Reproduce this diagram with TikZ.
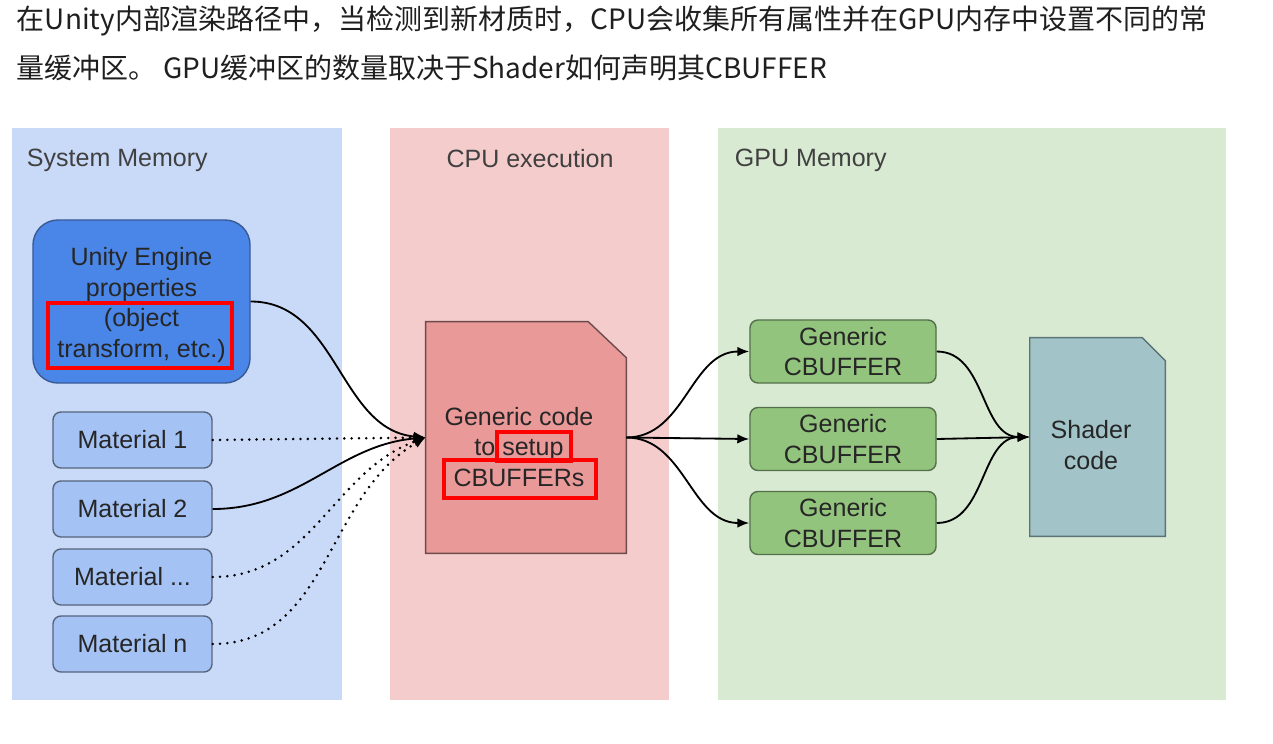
\documentclass[tikz,border=0pt]{standalone}
\usepackage{fontspec}
\setmainfont{Liberation Sans}
\newfontfamily\cjk{Noto Sans CJK SC}
\usetikzlibrary{arrows.meta,shapes,backgrounds}

\definecolor{sysbg}{HTML}{C9DAF8}
\definecolor{cpubg}{HTML}{F4CCCC}
\definecolor{gpubg}{HTML}{D9EAD3}
\definecolor{unityfill}{HTML}{4A86E8}
\definecolor{unityline}{HTML}{3A5A96}
\definecolor{matfill}{HTML}{A4C2F4}
\definecolor{matline}{HTML}{56647C}
\definecolor{genfill}{HTML}{EA9999}
\definecolor{genline}{HTML}{6E4B4B}
\definecolor{cbfill}{HTML}{93C47D}
\definecolor{cbline}{HTML}{53704A}
\definecolor{shfill}{HTML}{A2C4C9}
\definecolor{shline}{HTML}{5B7478}
\definecolor{txt}{HTML}{262626}

\begin{document}
\begin{tikzpicture}[x=0.025cm,y=-0.025cm]
    \tikzstyle{every node}=[font=\fontsize{17.8}{21.8}\selectfont,text=txt,align=center]
    \tikzstyle{membox}=[rectangle,rounded corners=0.2cm,draw=matline,fill=matfill,line width=1pt,minimum width=3.975cm,minimum height=1.4cm]
    \tikzstyle{cbbox}=[rectangle,rounded corners=0.2cm,draw=cbline,fill=cbfill,line width=1pt,minimum width=4.65cm,minimum height=1.575cm,inner sep=0pt]
    \tikzstyle{docbox}=[rectangle,inner sep=0pt]
    \tikzstyle{hilite}=[draw=red,line width=2.6pt]
    \tikzstyle{link}=[line width=1.3pt,-{Latex[length=0.3cm,width=0.24cm]}]
    \tikzstyle{dotlink}=[link,line cap=round,dash pattern=on 0pt off 5.2pt,line width=2pt]

    \useasboundingbox (0,0) rectangle (1273,743);
    \begin{scope}[on background layer]
      \fill[sysbg] (12,128) rectangle (342,700);
      \fill[cpubg] (390,128) rectangle (669,700);
      \fill[gpubg] (718,128) rectangle (1226,700);
    \end{scope}

    % intro text
    \node[anchor=base west,font=\cjk\fontsize{19.9}{24}\selectfont,text=black!88] (intro1) at (12,29)
      {在Unity内部渲染路径中，当检测到新材质时，CPU会收集所有属性并在GPU内存中设置不同的常};
    \node[anchor=base west,font=\cjk\fontsize{19.9}{24}\selectfont,text=black!88] (intro2) at (12,78)
      {量缓冲区。 GPU缓冲区的数量取决于Shader如何声明其CBUFFER};

    % panel titles
    \node[anchor=west,text=black!75] (systitle) at (22,160) {System Memory};
    \node[text=black!75] (cputitle) at (530,159) {CPU execution};
    \node[anchor=west,text=black!75] (gputitle) at (730,160) {GPU Memory};

    % system memory
    \node[membox,draw=unityline,fill=unityfill,rounded corners=0.625cm,minimum width=5.425cm,minimum height=4.075cm] (unity) at (141.5,301.5) {};
    \node (unitytext) at (141.5,305) {Unity Engine\\properties\\(object\\transform, etc.)};
    \node[membox] (mat1) at (132.5,440) {Material 1};
    \node[membox] (mat2) at (132.5,509) {Material 2};
    \node[membox] (mat3) at (132.5,577) {Material ...};
    \node[membox] (matn) at (132.5,644) {Material n};

    % cpu
    \node[docbox,minimum width=5cm,minimum height=5.775cm] (gen) at (526,437.5) {};
    \node (gentext) at (519,447) {Generic code\\to setup\\CBUFFERs};

    % gpu
    \node[cbbox] (cb1) at (843,351.5) {Generic\\CBUFFER};
    \node[cbbox] (cb2) at (843,439) {Generic\\CBUFFER};
    \node[cbbox] (cb3) at (843,523) {Generic\\CBUFFER};
    \node[docbox,minimum width=3.375cm,minimum height=4.95cm] (shader) at (1097.5,437) {};
    \node (shtext) at (1091,445) {Shader\\code};

    \begin{scope}[on background layer]
      \filldraw[fill=genfill,draw=genline,line width=1pt] (gen.south west) -- (gen.north west)
        -- ([xshift=-0.95cm]gen.north east) -- ([yshift=-0.9cm]gen.north east) -- (gen.south east) -- cycle;
      \filldraw[fill=shfill,draw=shline,line width=1pt] (shader.south west) -- (shader.north west)
        -- ([xshift=-0.575cm]shader.north east) -- ([yshift=-0.575cm]shader.north east) -- (shader.south east) -- cycle;
    \end{scope}

    % highlights
    \draw[hilite] (48,303) rectangle (232,368);
    \draw[hilite] (497,432) rectangle (571,461);
    \draw[hilite] (444,460) rectangle (596,498);

    % connectors
    \draw[link] (unity.east) to[out=0,in=175] (gen.west);
    \draw[dotlink] (mat1.east) -- (gen.west);
    \draw[link] (mat2.east) to[out=0,in=185] (gen.west);
    \draw[dotlink] (mat3.east) to[out=0,in=200] (gen.west);
    \draw[dotlink] (matn.east) to[out=0,in=210] (gen.west);

    \draw[link] (gen.east) to[out=0,in=180] (cb1.west);
    \draw[link] (gen.east) -- (cb2.west);
    \draw[link] (gen.east) to[out=0,in=180] (cb3.west);

    \draw[link] (cb1.east) to[out=0,in=180] (shader.west);
    \draw[link] (cb2.east) -- (shader.west);
    \draw[link] (cb3.east) to[out=0,in=180] (shader.west);
\end{tikzpicture}
\end{document}
